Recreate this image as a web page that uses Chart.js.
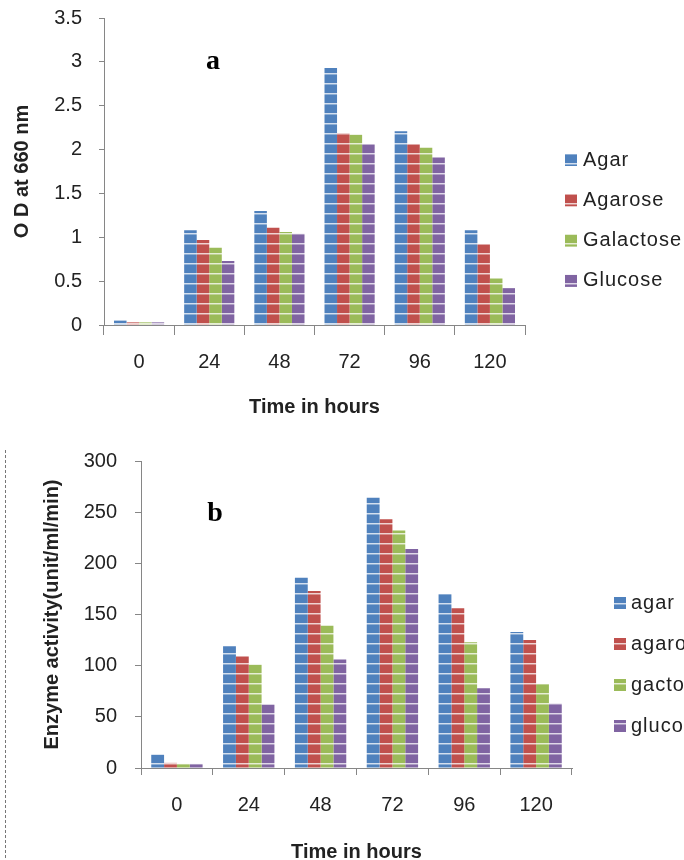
<!DOCTYPE html>
<html>
<head>
<meta charset="utf-8">
<script src="https://cdn.jsdelivr.net/npm/chart.js@4"></script>
<style>
  html, body { margin: 0; padding: 0; background: #fff; }
  body { width: 684px; height: 860px; overflow: hidden; position: relative; }
  .panel { position: absolute; left: 0; width: 684px; }
  #panelA { top: 0; height: 420px; }
  #panelB { top: 420px; height: 460px; }
</style>
</head>
<body>
<div class="panel" id="panelA"><canvas id="chartA" width="684" height="420"></canvas></div>
<div class="panel" id="panelB"><canvas id="chartB" width="684" height="460"></canvas></div>
<script>
// ── Data ──
const hours = ["0", "24", "48", "72", "96", "120"];

const odLabels = ["Agar", "Agarose", "Galactose", "Glucose"];
const odAgar = [0.05, 1.08, 1.3, 2.93, 2.21, 1.08];
const odAgarose = [0.03, 0.97, 1.11, 2.19, 2.06, 0.92];
const odGalactose = [0.03, 0.88, 1.06, 2.17, 2.02, 0.53];
const odGlucose = [0.03, 0.73, 1.04, 2.06, 1.91, 0.42];

const enzLabels = ["agar", "agarose", "gactose", "glucose"];
const enzAgar = [13, 119, 186, 264, 170, 133];
const enzAgarose = [5, 109, 173, 243, 156, 125];
const enzGalactose = [4, 101, 139, 232, 123, 82];
const enzGlucose = [4, 62, 106, 214, 78, 63];

const COLORS = ["#4f81bd", "#c0504d", "#9bbb59", "#8064a2"];
const AXIS = "#868686";
const TEXT = "#222";

Chart.defaults.font.family = "'Liberation Sans', Arial, sans-serif";
Chart.defaults.font.size = 20;
Chart.defaults.color = TEXT;

// ── Striped fill (light horizontal bands as in the scan) ──
function stripes(color) {
  const c = document.createElement("canvas");
  c.width = 4;
  c.height = 10;
  const g = c.getContext("2d");
  g.fillStyle = color;
  g.fillRect(0, 0, 4, 10);
  g.fillStyle = "rgba(255,255,255,0.75)";
  g.fillRect(0, 3, 4, 1);
  g.fillStyle = "rgba(255,255,255,0.35)";
  g.fillRect(0, 4, 4, 1);
  return g.createPattern(c, "repeat");
}

function makeSets(labels, series) {
  return series.map((data, i) => ({
    label: labels[i],
    data,
    backgroundColor: stripes(COLORS[i]),
    borderWidth: 0,
    barPercentage: 1,
    categoryPercentage: 0.715,
  }));
}

// ── Plugin: legend, panel letter, frame ──
const extras = {
  id: "extras",
  afterDraw(chart, args, o) {
    const ctx = chart.ctx;
    ctx.save();
    // legend
    ctx.font = "20px 'Liberation Sans', Arial, sans-serif";
    ctx.letterSpacing = "1px";
    ctx.textBaseline = "middle";
    ctx.textAlign = "left";
    chart.data.datasets.forEach((ds, i) => {
      const yc = o.legendY + i * o.legendDy;
      ctx.fillStyle = ds.backgroundColor;
      ctx.fillRect(o.legendX, yc - 6, 12, 12);
      ctx.fillStyle = TEXT;
      ctx.fillText(ds.label, o.legendX + o.textGap, yc);
    });
    ctx.letterSpacing = "0px";
    // panel letter
    ctx.font = "bold 28px 'Liberation Serif', 'Times New Roman', serif";
    ctx.textAlign = "center";
    ctx.fillStyle = "#000";
    ctx.fillText(o.letter, o.letterX, o.letterY);
    // dashed frame line
    if (o.frame) {
      ctx.strokeStyle = "#777";
      ctx.lineWidth = 1;
      ctx.setLineDash([3, 2]);
      ctx.beginPath();
      ctx.moveTo(5.5, o.frame);
      ctx.lineTo(5.5, chart.height);
      ctx.stroke();
    }
    ctx.restore();
  },
};

function axes(cfg) {
  return {
    x: {
      grid: {
        display: true,
        drawOnChartArea: false,
        drawTicks: true,
        tickLength: cfg.xTick,
        color: AXIS,
        offset: true,
      },
      border: { color: AXIS },
      ticks: { padding: cfg.xPad, color: TEXT },
      title: {
        display: true,
        text: "Time in hours",
        color: TEXT,
        font: { weight: "bold", size: 20 },
        padding: { top: 0, bottom: cfg.xTitlePad },
      },
      afterFit: (s) => {
        s.height = cfg.xHeight;
      },
    },
    y: {
      min: 0,
      max: cfg.yMax,
      grid: {
        display: true,
        drawOnChartArea: false,
        drawTicks: true,
        tickLength: cfg.yTick,
        color: AXIS,
      },
      border: { color: AXIS },
      ticks: {
        stepSize: cfg.yStep,
        padding: cfg.yPad,
        color: TEXT,
        callback: (v) => String(Math.round(v * 10) / 10),
      },
      title: {
        display: true,
        text: cfg.yTitle,
        color: TEXT,
        font: { weight: "bold", size: 20 },
        padding: { top: cfg.yTitlePad, bottom: 0 },
      },
      afterFit: (s) => {
        s.width = cfg.yWidth;
        // let the layout padding alone decide where the plot starts
        s.paddingTop = 0;
        s.paddingBottom = 0;
      },
    },
  };
}

// ── Chart a: optical density ──
new Chart(document.getElementById("chartA"), {
  type: "bar",
  data: {
    labels: hours,
    datasets: makeSets(odLabels, [odAgar, odAgarose, odGalactose, odGlucose]),
  },
  options: {
    responsive: false,
    animation: false,
    layout: { padding: { left: 0, right: 159, top: 18, bottom: 0 } },
    plugins: {
      legend: { display: false },
      tooltip: { enabled: false },
      extras: {
        legendX: 565,
        legendY: 160,
        legendDy: 40.3,
        textGap: 18,
        letter: "a",
        letterX: 213,
        letterY: 62,
      },
    },
    scales: axes({
      xTick: 10,
      xPad: 15,
      xTitlePad: 1,
      xHeight: 95,
      yMax: 3.5,
      yStep: 0.5,
      yTick: 5,
      yPad: 17,
      yTitle: "O D at 660 nm",
      yTitlePad: 10,
      yWidth: 104,
    }),
  },
  plugins: [extras],
});

// ── Chart b: enzyme activity ──
new Chart(document.getElementById("chartB"), {
  type: "bar",
  data: {
    labels: hours,
    datasets: makeSets(enzLabels, [enzAgar, enzAgarose, enzGalactose, enzGlucose]),
  },
  options: {
    responsive: false,
    animation: false,
    layout: { padding: { left: 0, right: 112, top: 41, bottom: 0 } },
    plugins: {
      legend: { display: false },
      tooltip: { enabled: false },
      extras: {
        legendX: 614,
        legendY: 183,
        legendDy: 41,
        textGap: 17,
        letter: "b",
        letterX: 215,
        letterY: 94,
        frame: 30,
      },
    },
    scales: axes({
      xTick: 7,
      xPad: 18,
      xTitlePad: 16,
      xHeight: 112,
      yMax: 300,
      yStep: 50,
      yTick: 6,
      yPad: 18,
      yTitle: "Enzyme activity(unit/ml/min)",
      yTitlePad: 40,
      yWidth: 141,
    }),
  },
  plugins: [extras],
});
</script>
</body>
</html>
